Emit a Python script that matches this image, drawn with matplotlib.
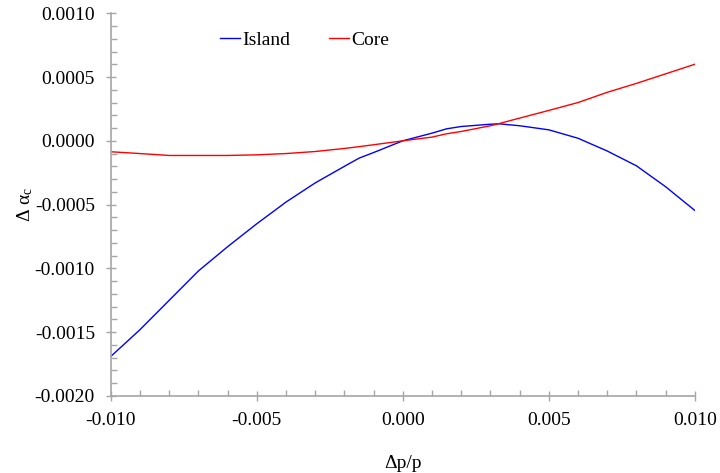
"""Momentum compaction deviation versus momentum offset."""

import matplotlib
matplotlib.use("Agg")
import matplotlib.pyplot as plt
from matplotlib.ticker import FormatStrFormatter, MultipleLocator

plt.rcParams["font.family"] = ["Liberation Serif", "DejaVu Serif"]
plt.rcParams["mathtext.fontset"] = "stix"

# Momentum offset (dp/p) and delta alpha_c for both orbits.
dp = [-0.010, -0.009, -0.008, -0.007, -0.006, -0.005, -0.004, -0.003,
      -0.002, -0.0015, -0.001, 0.000, 0.001, 0.0015, 0.002, 0.003, 0.0033,
      0.004, 0.005, 0.006, 0.007, 0.008, 0.009, 0.010]
island = [-0.00169, -0.00148, -0.00125, -0.00102, -0.00083, -0.00065,
          -0.00048, -0.00033, -0.00020, -0.000136, -0.000092, 0.0,
          0.00006, 0.000094, 0.000112, 0.00013, 0.000133, 0.000118,
          0.000086, 0.00002, -0.00008, -0.000196, -0.00036, -0.000546]
core = [-0.000086, -0.0001, -0.000115, -0.000115, -0.000115, -0.00011,
        -0.0001, -0.000084, -0.00006, -0.000046, -0.000031, 0.0,
        0.000029, 0.000055, 0.000073, 0.000118, 0.000135, 0.000178,
        0.000238, 0.0003, 0.00038, 0.00045, 0.000525, 0.0006]

AXIS_GREY = "#a6a6a6"

fig = plt.figure(figsize=(7.2, 4.73), dpi=100)
ax = fig.add_axes([0.154, 0.163, 0.811, 0.809])

ax.plot(dp, island, color="#0000ff", linewidth=1.0, label="Island")
ax.plot(dp, core, color="#ff0000", linewidth=1.0, label="Core")

ax.set_xlim(-0.010, 0.010)
ax.set_ylim(-0.0020, 0.0010)
ax.xaxis.set_major_locator(MultipleLocator(0.005))
ax.xaxis.set_minor_locator(MultipleLocator(0.001))
ax.yaxis.set_major_locator(MultipleLocator(0.0005))
ax.yaxis.set_minor_locator(MultipleLocator(0.0001))
ax.xaxis.set_major_formatter(FormatStrFormatter("%.3f"))
ax.yaxis.set_major_formatter(FormatStrFormatter("%.4f"))

for side in ("top", "right"):
    ax.spines[side].set_visible(False)
for side in ("left", "bottom"):
    ax.spines[side].set_color(AXIS_GREY)
    ax.spines[side].set_linewidth(1.2)

ax.tick_params(which="major", direction="inout", length=7, width=1.0,
               color=AXIS_GREY, labelsize=14, pad=8)
ax.tick_params(which="minor", direction="in", length=4, width=1.0,
               color=AXIS_GREY)

ax.set_xlabel("Δp/p", fontsize=14, labelpad=19)
ax.set_ylabel(r"Δ α$_\mathregular{c}$", fontsize=14, labelpad=0)

ax.legend(loc="center left", bbox_to_anchor=(0.187, 0.93), ncol=2,
          frameon=False, fontsize=14, handlelength=1.0, handletextpad=0.15,
          columnspacing=2.0, borderpad=0, borderaxespad=0)

fig.savefig("out.png", dpi=100)
